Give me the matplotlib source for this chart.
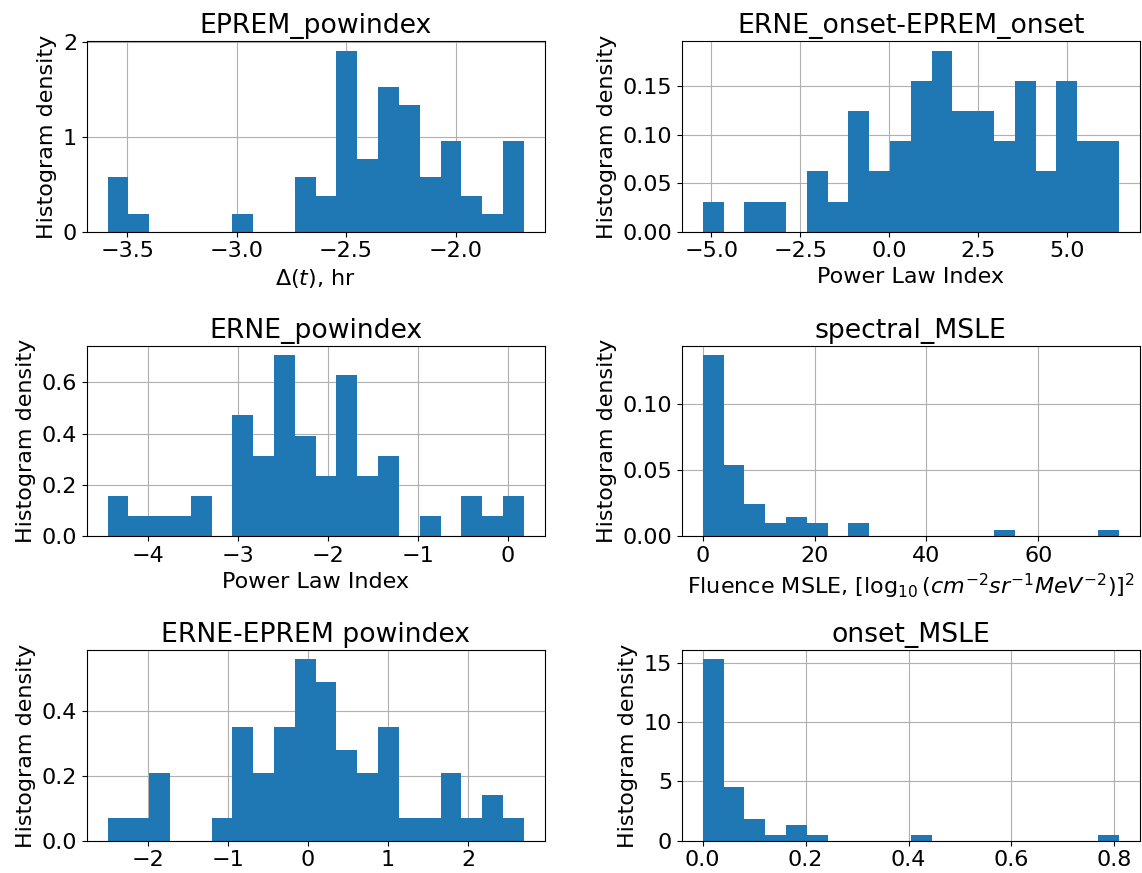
import numpy as np
import matplotlib
matplotlib.use('Agg')
from matplotlib import pyplot as plt

# bin counts (20 bins each, 55 events) and the data range spanned by the bins
eprem_pow_counts = [3, 1, 0, 0, 0, 0, 1, 0, 0, 3, 2, 10, 4, 8, 7, 3, 5, 2, 1, 5]
eprem_pow_range = (-3.59, -1.688)

onset_diff_counts = [1, 0, 1, 1, 0, 2, 1, 4, 2, 3, 5, 6, 4, 4, 3, 5, 2, 5, 3, 3]
onset_diff_range = (-5.246, 6.445)

erne_pow_counts = [2, 1, 1, 1, 2, 0, 6, 4, 9, 5, 3, 8, 3, 4, 0, 1, 0, 2, 1, 2]
erne_pow_range = (-4.449, 0.179)

spectral_counts = [28, 11, 5, 2, 3, 2, 0, 2, 0, 0, 0, 0, 0, 0, 1, 0, 0, 0, 0, 1]
spectral_range = (0.0, 74.4)

pow_diff_counts = [1, 1, 3, 0, 0, 1, 5, 3, 5, 8, 7, 4, 3, 5, 1, 1, 3, 1, 2, 1]
pow_diff_range = (-2.50, 2.697)

onset_msle_counts = [34, 10, 4, 1, 3, 1, 0, 0, 0, 0, 1, 0, 0, 0, 0, 0, 0, 0, 0, 1]
onset_msle_range = (0.0, 0.809)

panels = [
	('EPREM_powindex', r'$\Delta(t)$, hr', eprem_pow_counts, eprem_pow_range,
	 [-3.5, -3.0, -2.5, -2.0], [0, 1, 2]),
	('ERNE_onset-EPREM_onset', 'Power Law Index', onset_diff_counts, onset_diff_range,
	 [-5.0, -2.5, 0.0, 2.5, 5.0], [0.0, 0.05, 0.10, 0.15]),
	('ERNE_powindex', 'Power Law Index', erne_pow_counts, erne_pow_range,
	 [-4, -3, -2, -1, 0], [0.0, 0.2, 0.4, 0.6]),
	('spectral_MSLE', r'Fluence MSLE, [$\log_{10}(cm^{-2}sr^{-1}MeV^{-2})$]$^2$',
	 spectral_counts, spectral_range, [0, 20, 40, 60], [0.0, 0.05, 0.10]),
	('ERNE-EPREM powindex', None, pow_diff_counts, pow_diff_range,
	 [-2, -1, 0, 1, 2], [0.0, 0.2, 0.4]),
	('onset_MSLE', None, onset_msle_counts, onset_msle_range,
	 [0.0, 0.2, 0.4, 0.6, 0.8], [0, 5, 10, 15]),
]

def main():
	plt.rcParams['font.size'] = 16
	fig, axes = plt.subplots(3, 2, figsize=(11.42, 8.73), dpi=100)
	fig.subplots_adjust(left=0.076, right=0.998, top=0.9525, bottom=0.037,
						wspace=0.30, hspace=0.60)

	for ax, (title, xlabel, counts, rng, xt, yt) in zip(axes.flat, panels):
		edges = np.linspace(rng[0], rng[1], len(counts) + 1)
		centers = 0.5 * (edges[:-1] + edges[1:])
		ax.hist(centers, bins=edges, weights=counts, density=True, color='C0')
		ax.grid(True)
		ax.set_axisbelow(True)
		ax.set_title(title)
		ax.set_ylabel('Histogram density')
		if xlabel:
			ax.set_xlabel(xlabel)
		ax.set_xticks(xt)
		ax.set_yticks(yt)

	fig.savefig('out.png')
	return None

if __name__ == '__main__':
	main()
